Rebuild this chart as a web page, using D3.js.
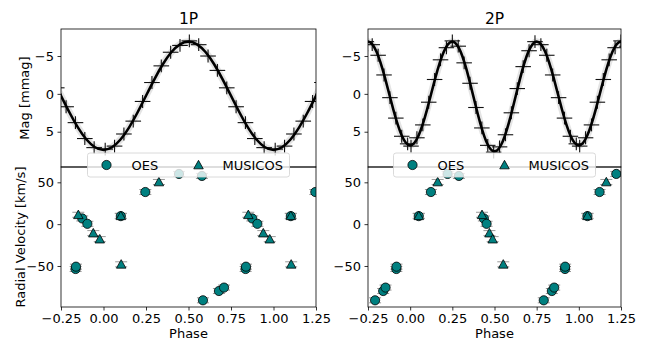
<!DOCTYPE html>
<html><head><meta charset="utf-8">
<script src="https://cdn.jsdelivr.net/npm/d3@7"></script>
<style>
body{margin:0;background:#fff}
text{font-family:"DejaVu Sans",sans-serif;fill:#000}
</style>
</head><body>
<svg id="c" width="646" height="343"></svg>
<script>
// ---------- data ----------
const panelTitles = ["1P", "2P"];
const xTicks = [-0.25, 0, 0.25, 0.5, 0.75, 1, 1.25];
const magTicks = [-5, 0, 5];
const rvTicks = [50, 0, -50];

// model light curve (one cycle, phase 0..0.95)
const modelPhase = [0,0.05,0.1,0.15,0.2,0.25,0.3,0.35,0.4,0.45,0.5,0.55,0.6,0.65,0.7,0.75,0.8,0.85,0.9,0.95];
const model1P = [7.40,7.05,6.03,4.45,2.46,0.25,-1.96,-3.95,-5.53,-6.55,-6.90,-6.55,-5.53,-3.95,-1.96,0.25,2.46,4.45,6.03,7.05];
const model2P = [6.80,5.49,2.07,-2.17,-5.59,-6.90,-5.52,-1.89,2.59,6.22,7.60,6.22,2.59,-1.89,-5.52,-6.90,-5.59,-2.17,2.07,5.49];

// binned photometry
const bin1PPhase = [0.01,0.065,0.12,0.175,0.23,0.285,0.34,0.395,0.45,0.505,0.56,0.615,0.67,0.725,0.78,0.835,0.89,0.945];
const bin1PMag   = [7.3,6.9,5.3,3.6,1.0,-1.5,-3.7,-5.5,-6.4,-7.0,-6.5,-5.0,-3.1,-0.8,1.7,3.8,5.9,7.1];
const bin2PPhase = [0.005,0.04,0.075,0.11,0.145,0.18,0.215,0.25,0.285,0.32,0.355,0.39,0.425,0.46,0.495,0.53,0.565,0.6,0.635,0.67,0.705,0.74,0.775,0.81,0.845,0.88,0.915,0.95,0.985];
const bin2PMag   = [6.9,5.8,4.1,1.1,-1.9,-4.5,-6.1,-7.0,-6.3,-4.1,-1.4,1.8,4.5,6.8,7.7,7.0,5.4,2.5,-0.7,-3.6,-5.7,-6.9,-6.5,-5.1,-2.5,0.5,3.2,5.6,6.6];

// radial velocities
const oesPhase1P = [0.838,0.836,0.875,0.905,0.102,0.246,0.444,0.579,0.585,0.679,0.709];
const oesPhase2P = [0.919,0.918,0.437,0.453,0.051,0.123,0.222,0.289,0.792,0.840,0.854];
const oesRV      = [-50.8,-53.6,6.8,0.4,9.6,38.4,60.0,57.6,-91.0,-79.9,-75.8];
const oesErr     = [3,3,3,3,3,3,3,3,3,3,3];
const musPhase1P = [0.852,0.940,0.978,0.102,0.104,0.326];
const musPhase2P = [0.426,0.470,0.489,0.051,0.552,0.163];
const musRV      = [11.2,-10.7,-17.9,10.0,-48.0,50.4];
const musErr     = [3,3,3,3,3,3];

// ---------- layout ----------
const svg = d3.select("#c");
const panelX = [[61,316],[368,621]];
const topY = [29,167], botY = [167,307];
const teal = "#008080";
const minus = s => String(s).replace(/-/g, "\u2212");

function fold(ph, vals, lo, hi){
  const out = [];
  [-1,0,1].forEach(k => ph.forEach((p,i) => {
    const q = p + k;
    if (q >= lo && q <= hi) out.push({x:q, y:vals[i], i:i});
  }));
  return out.sort((a,b)=>a.x-b.x);
}

const tri = (w,h) => `M0,${-h*0.55}L${w/2},${h*0.45}L${-w/2},${h*0.45}Z`;

const panels = [
  {title:panelTitles[0], model:model1P, bp:bin1PPhase, bm:bin1PMag, oesP:oesPhase1P, musP:musPhase1P},
  {title:panelTitles[1], model:model2P, bp:bin2PPhase, bm:bin2PMag, oesP:oesPhase2P, musP:musPhase2P}
];

const fs = "13px";

panels.forEach((P, pi) => {
  const x = d3.scaleLinear().domain([-0.25,1.25]).range(panelX[pi]);
  const yM = d3.scaleLinear().domain([-8.57,9.66]).range(topY);
  const yR = d3.scaleLinear().domain([68.3,-99]).range(botY);
  const [xa, xb] = panelX[pi];

  const defs = svg.append("defs");
  defs.append("clipPath").attr("id","ct"+pi).append("rect")
    .attr("x",xa).attr("y",topY[0]).attr("width",xb-xa).attr("height",topY[1]-topY[0]);
  defs.append("clipPath").attr("id","cb"+pi).append("rect")
    .attr("x",xa).attr("y",botY[0]).attr("width",xb-xa).attr("height",botY[1]-botY[0]);

  // ---- top panel ----
  const gT = svg.append("g").attr("clip-path",`url(#ct${pi})`);
  const mdl = fold(modelPhase, P.model, -0.45, 1.45);
  const line = d3.line().x(d=>x(d.x)).y(d=>yM(d.y)).curve(d3.curveNatural);
  gT.append("path").attr("d", line(mdl)).attr("fill","none")
    .attr("stroke","#c4c4c4").attr("stroke-width",7).attr("stroke-opacity",0.45)
    .attr("stroke-linecap","round");
  const bins = fold(P.bp, P.bm, -0.35, 1.35);
  const bg = gT.append("g").attr("stroke","#111").attr("stroke-width",1.1);
  bins.forEach(d => {
    bg.append("line").attr("x1",x(d.x-0.046)).attr("x2",x(d.x+0.046)).attr("y1",yM(d.y)).attr("y2",yM(d.y));
    bg.append("line").attr("x1",x(d.x)).attr("x2",x(d.x)).attr("y1",yM(d.y-0.85)).attr("y2",yM(d.y+0.85));
  });
  gT.append("path").attr("d", line(mdl)).attr("fill","none")
    .attr("stroke","#000").attr("stroke-width",2.6);

  // ---- bottom panel ----
  const gB = svg.append("g").attr("clip-path",`url(#cb${pi})`);
  const oes = fold(P.oesP, oesRV, -0.3, 1.3);
  const mus = fold(P.musP, musRV, -0.3, 1.3);
  const eg = gB.append("g").attr("stroke","#999").attr("stroke-width",1);
  const errs = (arr, errArr) => arr.forEach(d => {
    const e = errArr[d.i];
    eg.append("line").attr("x1",x(d.x)).attr("x2",x(d.x)).attr("y1",yR(d.y-e)).attr("y2",yR(d.y+e));
    [d.y-e, d.y+e].forEach(v => eg.append("line").attr("x1",x(d.x)-6).attr("x2",x(d.x)+6).attr("y1",yR(v)).attr("y2",yR(v)));
  });
  errs(oes, oesErr);
  errs(mus, musErr);
  gB.selectAll("circle.oes").data(oes).enter().append("circle")
    .attr("cx",d=>x(d.x)).attr("cy",d=>yR(d.y)).attr("r",4.6)
    .attr("fill",teal).attr("stroke","#000").attr("stroke-width",0.8);
  gB.selectAll("path.mus").data(mus).enter().append("path")
    .attr("d",tri(9.5,8.5)).attr("transform",d=>`translate(${x(d.x)},${yR(d.y)})`)
    .attr("fill",teal).attr("stroke","#000").attr("stroke-width",0.8);

  // ---- spines ----
  svg.append("rect").attr("x",xa).attr("y",topY[0]).attr("width",xb-xa).attr("height",topY[1]-topY[0])
    .attr("fill","none").attr("stroke","#000").attr("stroke-width",0.8);
  svg.append("rect").attr("x",xa).attr("y",botY[0]).attr("width",xb-xa).attr("height",botY[1]-botY[0])
    .attr("fill","none").attr("stroke","#000").attr("stroke-width",0.8);

  // ---- axes ----
  const ax1 = svg.append("g").attr("transform",`translate(${xa},0)`)
    .call(d3.axisLeft(yM).tickValues(magTicks).tickFormat(minus).tickSize(3.5).tickPadding(3.5));
  const ax2 = svg.append("g").attr("transform",`translate(${xa},0)`)
    .call(d3.axisLeft(yR).tickValues(rvTicks).tickFormat(minus).tickSize(3.5).tickPadding(3.5));
  const ax3 = svg.append("g").attr("transform",`translate(0,${botY[1]})`)
    .call(d3.axisBottom(x).tickValues(xTicks).tickFormat(d=>minus(d3.format(".2f")(d))).tickSize(3.5).tickPadding(3.5));
  [ax1,ax2,ax3].forEach(a => {
    a.select(".domain").remove();
    a.selectAll("line").attr("stroke","#000").attr("stroke-width",0.8);
    a.selectAll("text").style("font-size",fs).style("font-family","DejaVu Sans");
  });

  svg.append("text").attr("x",(xa+xb)/2).attr("y",24).attr("text-anchor","middle")
    .style("font-size","15.5px").text(P.title);
  svg.append("text").attr("x",(xa+xb)/2).attr("y",337.5).attr("text-anchor","middle")
    .style("font-size",fs).text("Phase");
  if (pi === 0) {
    svg.append("text").attr("transform",`translate(29,98) rotate(-90)`).attr("text-anchor","middle")
      .style("font-size",fs).text("Mag [mmag]");
    svg.append("text").attr("transform",`translate(24.5,237) rotate(-90)`).attr("text-anchor","middle")
      .style("font-size",fs).text("Radial Velocity [km/s]");
  }

  // ---- legend ----
  const cx = (xa+xb)/2, lw = 202, lh = 24, ly = 153;
  const lg = svg.append("g");
  lg.append("rect").attr("x",cx-lw/2).attr("y",ly).attr("width",lw).attr("height",lh).attr("rx",2.5)
    .attr("fill","#fff").attr("fill-opacity",0.8).attr("stroke","#d0d0d0").attr("stroke-width",0.8);
  const lx = cx - lw/2;
  lg.append("circle").attr("cx",lx+19).attr("cy",ly+12).attr("r",4.6)
    .attr("fill",teal).attr("stroke","#000").attr("stroke-width",0.8);
  lg.append("text").attr("x",lx+44).attr("y",ly+16.8).style("font-size",fs).text("OES");
  lg.append("path").attr("d",tri(9.5,8.5)).attr("transform",`translate(${lx+111},${ly+12})`)
    .attr("fill",teal).attr("stroke","#000").attr("stroke-width",0.8);
  lg.append("text").attr("x",lx+135).attr("y",ly+16.8).style("font-size",fs).text("MUSICOS");
});
</script>
</body></html>
